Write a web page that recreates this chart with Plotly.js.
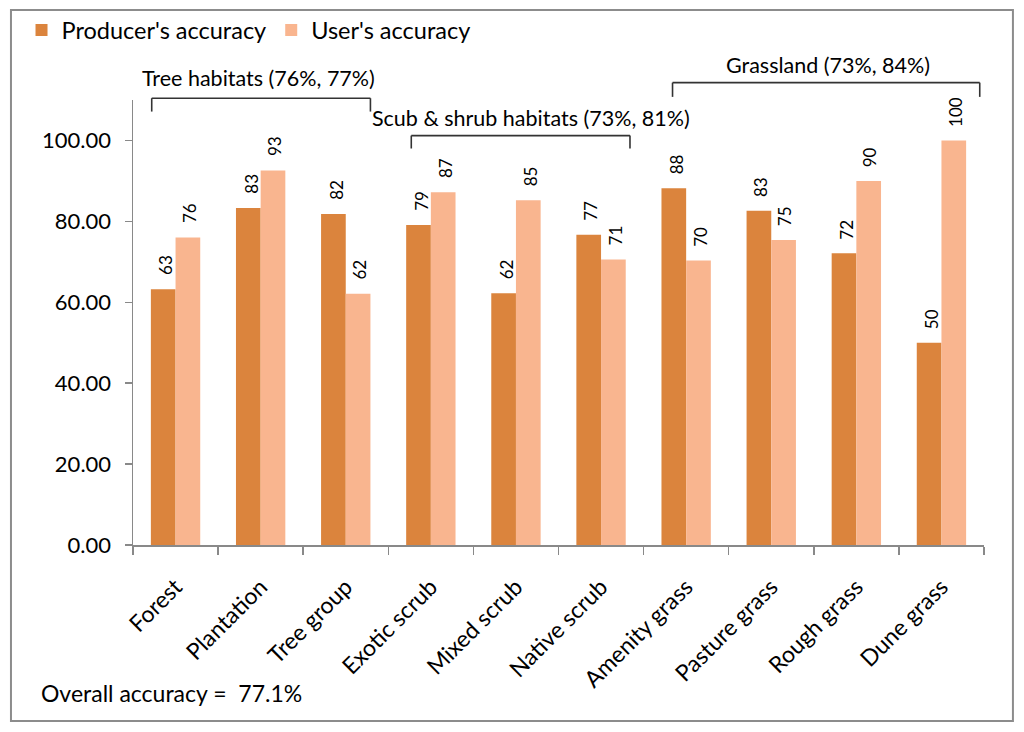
<!DOCTYPE html>
<html>
<head>
<meta charset="utf-8">
<script src="https://cdn.plot.ly/plotly-3.0.1.min.js"></script>
<style>
  body { margin: 0; background: #fff; }
  #chart { width: 1024px; height: 732px; }
</style>
</head>
<body>
<div id="chart"></div>
<script>
var categories = ['Forest', 'Plantation', 'Tree group', 'Exotic scrub', 'Mixed scrub',
  'Native scrub', 'Amenity grass', 'Pasture grass', 'Rough grass', 'Dune grass'];
var producer = [63.2, 83.3, 81.8, 79.1, 62.2, 76.7, 88.2, 82.6, 72.1, 50.0];
var user = [76.0, 92.6, 62.1, 87.2, 85.2, 70.6, 70.3, 75.4, 90.0, 100.0];

var groupLabels = ['Tree habitats (76%, 77%)', 'Scub & shrub habitats (73%, 81%)', 'Grassland (73%, 84%)'];
var groupStart = [-0.28, 2.77, 5.84];
var groupEnd = [2.29, 5.34, 9.45];
var groupLabelX = [0.98, 4.18, 7.67];
var groupLineY = [1.004, 0.920, 1.039];
var groupTickY = [0.974, 0.891, 1.007];
var groupLabelY = [1.050, 0.960, 1.078];

var FONT = 'Lato, "Open Sans", sans-serif';
var orange = '#DB843D';
var peach = '#F9B58F';

var data = [
  {
    name: "Producer's accuracy",
    type: 'bar',
    x: categories,
    y: producer,
    marker: {color: orange, line: {width: 0}},
    hoverinfo: 'x+y'
  },
  {
    name: "User's accuracy",
    type: 'bar',
    x: categories,
    y: user,
    marker: {color: peach, line: {width: 0}},
    hoverinfo: 'x+y'
  }
];

var annotations = [];
function valueLabel(cat, v, shift) {
  return {
    x: cat, y: v, xref: 'x', yref: 'y',
    text: String(Math.round(v)),
    textangle: -90,
    showarrow: false,
    xshift: shift,
    yshift: 12,
    yanchor: 'bottom',
    font: {family: FONT, size: 17, color: '#000'}
  };
}
categories.forEach(function (c, i) {
  annotations.push(valueLabel(c, producer[i], -10));
  annotations.push(valueLabel(c, user[i], 14));
});

var shapes = [];
var lineStyle = {color: '#333', width: 1.6};
groupLabels.forEach(function (g, i) {
  shapes.push({type: 'line', xref: 'x', yref: 'paper', x0: groupStart[i], x1: groupEnd[i],
    y0: groupLineY[i], y1: groupLineY[i], line: lineStyle});
  shapes.push({type: 'line', xref: 'x', yref: 'paper', x0: groupStart[i], x1: groupStart[i],
    y0: groupLineY[i], y1: groupTickY[i], line: lineStyle});
  shapes.push({type: 'line', xref: 'x', yref: 'paper', x0: groupEnd[i], x1: groupEnd[i],
    y0: groupLineY[i], y1: groupTickY[i], line: lineStyle});
  annotations.push({
    x: groupLabelX[i], y: groupLabelY[i], xref: 'x', yref: 'paper',
    text: g, showarrow: false, xanchor: 'center', yanchor: 'middle',
    font: {family: FONT, size: 21.5, color: '#000'}
  });
});

// outer chart border
shapes.push({type: 'rect', xref: 'paper', yref: 'paper',
  x0: -0.1434, x1: 1.034, y0: -0.3955, y1: 1.202,
  line: {color: '#8c8c8c', width: 2}});

annotations.push({
  x: -0.1105, y: -0.333, xref: 'paper', yref: 'paper',
  text: 'Overall accuracy =  77.1%', showarrow: false,
  xanchor: 'left', yanchor: 'middle',
  font: {family: FONT, size: 23, color: '#000'}
});

var layout = {
  width: 1024,
  height: 732,
  margin: {l: 133, r: 40, t: 100, b: 187, autoexpand: false},
  paper_bgcolor: '#fff',
  plot_bgcolor: '#fff',
  font: {family: FONT, color: '#000'},
  barmode: 'group',
  bargap: 0.42,
  bargroupgap: 0,
  showlegend: true,
  legend: {
    orientation: 'h',
    x: -0.131, xanchor: 'left',
    y: 1.157, yanchor: 'middle',
    font: {family: FONT, size: 23.5, color: '#000'},
    bgcolor: 'rgba(0,0,0,0)'
  },
  xaxis: {
    type: 'category',
    showline: true,
    linecolor: '#898989',
    linewidth: 1.5,
    ticks: 'outside',
    tickson: 'boundaries',
    ticklen: 8,
    tickcolor: '#898989',
    tickwidth: 1.5,
    tickangle: -45,
    ticklabelstandoff: 18,
    tickfont: {family: FONT, size: 23, color: '#000'},
    showgrid: false,
    zeroline: false
  },
  yaxis: {
    range: [0, 110],
    dtick: 20,
    tick0: 0,
    tickformat: '.2f',
    showline: true,
    linecolor: '#898989',
    linewidth: 1.5,
    ticks: 'outside',
    ticklen: 7,
    tickcolor: '#898989',
    tickwidth: 1.5,
    ticklabelstandoff: 9,
    tickfont: {family: FONT, size: 22, color: '#000'},
    showgrid: false,
    zeroline: false
  },
  shapes: shapes,
  annotations: annotations
};

Plotly.newPlot('chart', data, layout, {displayModeBar: false, staticPlot: true});
</script>
</body>
</html>
